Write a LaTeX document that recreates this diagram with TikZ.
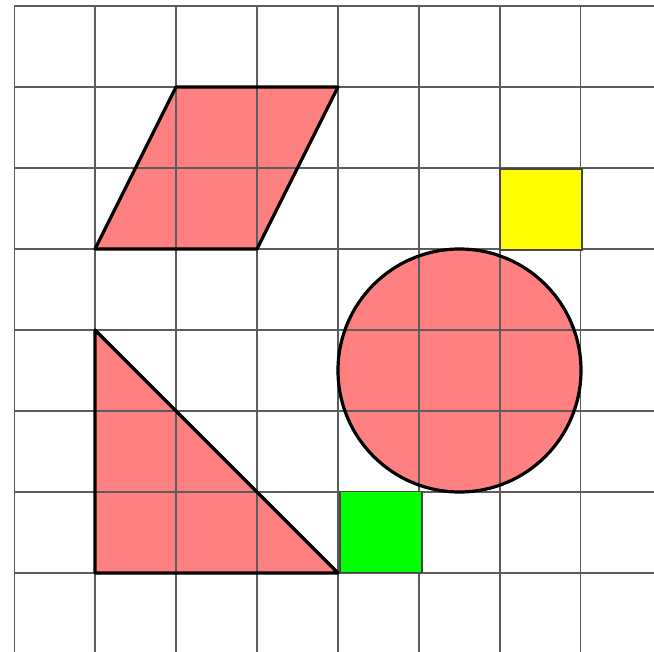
\documentclass[tikz,border=0pt]{standalone}
\begin{document}
\begin{tikzpicture}[x=1pt,y=-1pt,
  gridline/.style={draw=black!64,line width=1.6pt},
  pinkfill/.style={fill=red!50!white,draw=none},
  outline/.style={draw=black,line width=3.2pt,line join=round},
  sq/.style={draw=black!72,line width=1.6pt}]
\useasboundingbox (0,0) rectangle (654,652);
\fill[white] (0,0) rectangle (654,652);
% pink shapes
\coordinate (p1) at (176,87);
\coordinate (p2) at (338,87);
\coordinate (p3) at (257,249);
\coordinate (p4) at (95,249);
\coordinate (t1) at (95,330);
\coordinate (t2) at (95,573);
\coordinate (t3) at (338,573);
\coordinate (cc) at (459.5,370.5);
\fill[pinkfill] (p1) -- (p2) -- (p3) -- (p4) -- cycle;
\fill[pinkfill] (t1) -- (t2) -- (t3) -- cycle;
\fill[pinkfill] (cc) circle (121.5);
% grid
\begin{scope}
\clip (0,0) rectangle (654,652);
\foreach \i in {0,...,8} {
  \draw[gridline] (14.3+80.9*\i,6) -- (14.3+80.9*\i,660);
  \draw[gridline] (14.3,6+81*\i) -- (660,6+81*\i);
}
\end{scope}
% outlines
\draw[outline] (p1) -- (p2) -- (p3) -- (p4) -- cycle;
\draw[outline] (t1) -- (t2) -- (t3) -- cycle;
\draw[outline] (cc) circle (121.5);
% squares
\draw[sq,fill={rgb,255:red,255;green,255;blue,0}] (500,169) rectangle (582,250);
\draw[sq,fill={rgb,255:red,0;green,255;blue,0}] (340,491.5) rectangle (422,572.5);
\end{tikzpicture}
\end{document}
